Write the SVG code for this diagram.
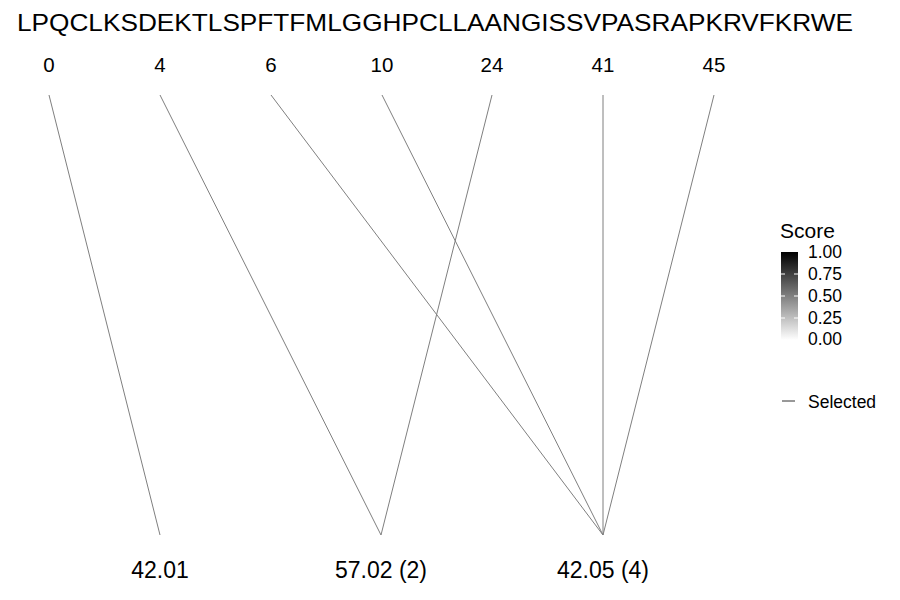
<svg xmlns="http://www.w3.org/2000/svg" width="900" height="600" viewBox="0 0 900 600">
<defs>
<linearGradient id="g" x1="0" y1="1" x2="0" y2="0">
<stop offset="0" stop-color="#ffffff"/>
<stop offset="1" stop-color="#000000"/>
</linearGradient>
</defs>
<style>
text{font-family:"Liberation Sans",Arial,sans-serif;fill:#000}
.seq{font-size:24px}
.top{font-size:20.5px;text-anchor:middle}
.bot{font-size:23px;text-anchor:middle}
.leg{font-size:17.5px}
.c line{stroke:#7f7f7f;stroke-width:1}
</style>
<rect width="900" height="600" fill="#fff"/>
<text class="seq" x="435" y="31" text-anchor="middle" textLength="836" lengthAdjust="spacingAndGlyphs">LPQCLKSDEKTLSPFTFMLGGHPCLLAANGISSVPASRAPKRVFKRWE</text>
<g id="top-0"><text class="top" x="49" y="72">0</text></g>
<g id="top-4"><text class="top" x="160" y="72">4</text></g>
<g id="top-6"><text class="top" x="271" y="72">6</text></g>
<g id="top-10"><text class="top" x="382" y="72">10</text></g>
<g id="top-24"><text class="top" x="492" y="72">24</text></g>
<g id="top-41"><text class="top" x="603" y="72">41</text></g>
<g id="top-45"><text class="top" x="714" y="72">45</text></g>
<g id="bot-1"><text class="bot" x="160" y="578">42.01</text></g>
<g id="bot-2"><text class="bot" x="381" y="578">57.02 (2)</text></g>
<g id="bot-3"><text class="bot" x="603" y="578">42.05 (4)</text></g>
<g id="connectors" class="c">
<line x1="49" y1="95" x2="160" y2="535"/>
<line x1="160" y1="95" x2="381" y2="535"/>
<line x1="492" y1="95" x2="381" y2="535"/>
<line x1="271" y1="95" x2="603" y2="535"/>
<line x1="382" y1="95" x2="603" y2="535"/>
<line x1="603" y1="95" x2="603" y2="535"/>
<line x1="714" y1="95" x2="603" y2="535"/>
</g>
<g id="legend">
<text x="780" y="238" style="font-size:21px">Score</text>
<rect x="781" y="252" width="17" height="88" fill="url(#g)"/>
<g stroke="#fff" stroke-width="1">
<line x1="781" y1="274" x2="785" y2="274"/><line x1="794" y1="274" x2="798" y2="274"/>
<line x1="781" y1="296" x2="785" y2="296"/><line x1="794" y1="296" x2="798" y2="296"/>
<line x1="781" y1="318" x2="785" y2="318"/><line x1="794" y1="318" x2="798" y2="318"/>
</g>
<text class="leg" x="808" y="258">1.00</text>
<text class="leg" x="808" y="280">0.75</text>
<text class="leg" x="808" y="302">0.50</text>
<text class="leg" x="808" y="324">0.25</text>
<text class="leg" x="808" y="345">0.00</text>
<line x1="782" y1="401" x2="795" y2="401" stroke="#333" stroke-width="1"/>
<text class="leg" x="808" y="408">Selected</text>
</g>
</svg>
